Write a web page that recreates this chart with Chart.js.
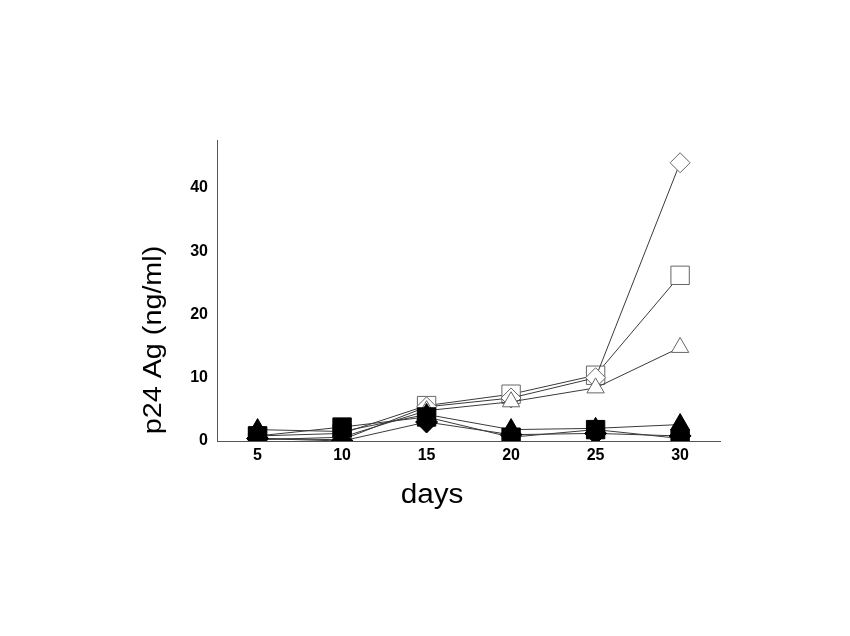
<!DOCTYPE html>
<html>
<head>
<meta charset="utf-8">
<script src="https://cdn.jsdelivr.net/npm/chart.js@4/dist/chart.umd.min.js"></script>
<style>
  html, body { margin: 0; padding: 0; background: #fff; }
  canvas { display: block; }
</style>
</head>
<body>
<canvas id="chart" width="850" height="636"></canvas>
<script>
const days = [5, 10, 15, 20, 25, 30];
const yTicks = [0, 10, 20, 30, 40];

// open markers (rising series)
const openDiamond = [0.4, 0.2, 5.4, 6.8, 10.0, 44.0];
const openSquare = [0.8, 1.2, 5.6, 7.4, 10.4, 26.2];
const openTriangle = [0.2, 0.6, 4.8, 6.2, 8.4, 14.8];
// filled markers (flat series)
const filledTriangle = [1.8, 1.5, 4.2, 1.8, 2.0, 2.6];
const filledSquare = [0.8, 2.2, 3.8, 0.6, 1.8, 0.4];
const filledDiamond = [0.4, 0.0, 3.0, 1.0, 1.2, 0.8];

const font = "'Liberation Sans', Arial, sans-serif";

function series(values, style, filled, radius) {
  return {
    data: values.map((v, i) => ({ x: days[i], y: v })),
    borderColor: "#3a3a3a",
    borderWidth: 1,
    pointStyle: style,
    pointRadius: radius,
    pointBackgroundColor: filled ? "#000" : "#fff",
    pointBorderColor: filled ? "#000" : "#666",
    pointBorderWidth: 1,
    tension: 0
  };
}

// axis titles are drawn here so they can sit where the figure has them
const axisTitles = {
  id: "axisTitles",
  afterDraw(chart) {
    const ctx = chart.ctx;
    ctx.save();
    ctx.fillStyle = "#000";
    ctx.textAlign = "center";
    ctx.textBaseline = "middle";

    ctx.save();
    ctx.translate(154, 340);
    ctx.rotate(-Math.PI / 2);
    ctx.scale(1.15, 1);
    ctx.font = "25px " + font;
    ctx.fillText("p24 Ag (ng/ml)", 0, 0);
    ctx.restore();

    ctx.save();
    ctx.translate(432, 496);
    ctx.scale(1.1, 1);
    ctx.font = "27px " + font;
    ctx.fillText("days", 0, 0);
    ctx.restore();

    ctx.restore();
  }
};

// first dataset is drawn on top, so the filled ones go first
new Chart(document.getElementById("chart"), {
  type: "line",
  data: {
    datasets: [
      series(filledSquare, "rect", true, 13),
      series(filledTriangle, "triangle", true, 11),
      series(filledDiamond, "rectRot", true, 11),
      series(openTriangle, "triangle", false, 10),
      series(openDiamond, "rectRot", false, 10),
      series(openSquare, "rect", false, 13)
    ]
  },
  options: {
    responsive: false,
    animation: false,
    layout: { padding: { left: 140, top: 140, right: 130, bottom: 0 } },
    plugins: { legend: { display: false }, tooltip: { enabled: false } },
    scales: {
      x: {
        type: "linear",
        min: 2.6,
        max: 32.36,
        grid: { display: false, drawTicks: false },
        border: { display: true, color: "#555", width: 1 },
        ticks: { color: "#000", padding: 5, font: { family: font, size: 16, weight: "bold" } },
        afterBuildTicks: (scale) => { scale.ticks = days.map((v) => ({ value: v })); },
        afterFit: (scale) => { scale.height = 636 - 441; }
      },
      y: {
        min: 0,
        max: 47.6,
        grid: { display: false, drawTicks: false },
        border: { display: true, color: "#555", width: 1 },
        ticks: { color: "#000", padding: 9, font: { family: font, size: 16, weight: "bold" } },
        afterBuildTicks: (scale) => { scale.ticks = yTicks.map((v) => ({ value: v })); },
        afterFit: (scale) => { scale.width = 217 - 140; }
      }
    }
  },
  plugins: [axisTitles]
});
</script>
</body>
</html>
